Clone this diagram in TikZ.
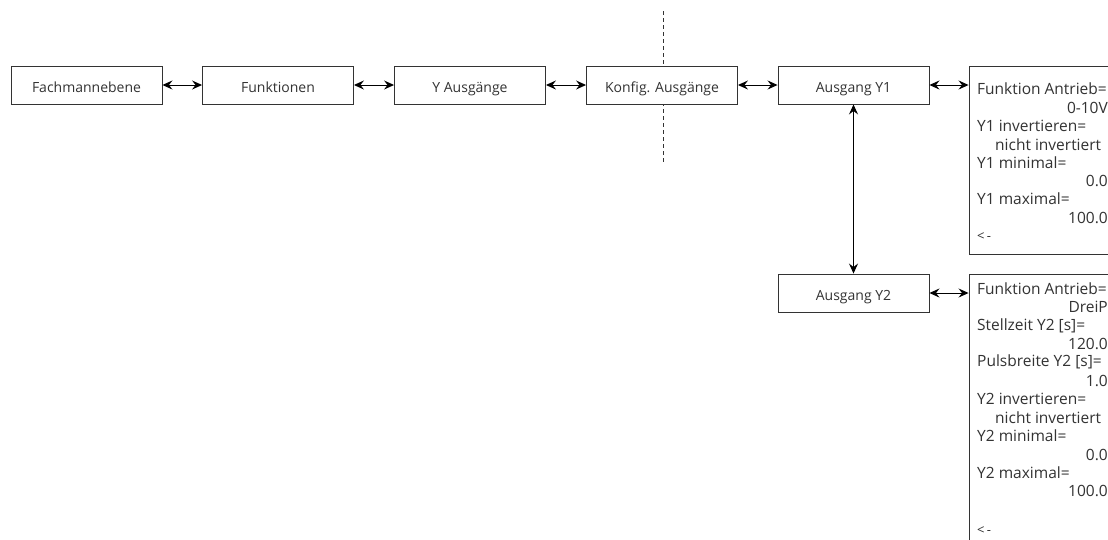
\documentclass[tikz,border=0pt]{standalone}
\usepackage{fontspec}
\setmainfont{Open Sans}
\usetikzlibrary{arrows.meta}
\definecolor{ink}{HTML}{333333}
\begin{document}
\begin{tikzpicture}[x=1pt,y=-1pt,
  font=\fontsize{14}{16}\selectfont,
  menubox/.style={draw=ink,line width=0.9pt,fill=white,text=ink,
    minimum width=151pt,minimum height=38pt,inner sep=0pt,
    text height=15pt,text depth=0pt},
  listbox/.style={draw=ink,line width=0.9pt,fill=white,inner sep=0pt},
  tip/.tip={Stealth[length=10pt,width=9pt,inset=3.5pt]},
  link/.style={line width=1pt,draw=black,tip-tip},
  item/.style={text=ink,inner sep=0pt,anchor=west,font=\fontsize{15.5}{17}\selectfont},
  val/.style={text=ink,inner sep=0pt,anchor=east,font=\fontsize{15.5}{17}\selectfont}]
\useasboundingbox (0,0) rectangle (1108,539);

% separator line behind the main menu row
\draw[ink,line width=0.8pt,dash pattern=on 4pt off 3pt] (663,11) -- (663,163);

% main menu row
\node[menubox] (fach) at (86.5,85) {Fachmannebene};
\node[menubox] (funk) at (278,85) {Funktionen};
\node[menubox] (yaus) at (470,85) {Y Ausgänge};
\node[menubox] (konf) at (662,85) {Konfig. Ausgänge};
\node[menubox] (ay1) at (853.5,85) {Ausgang Y1};
\node[menubox] (ay2) at (853.5,293) {Ausgang Y2};

% parameter lists
\node[listbox,minimum width=160pt,minimum height=188pt] (lst1) at (1049,160) {};
\node[listbox,minimum width=160pt,minimum height=280pt] (lst2) at (1049,414) {};

% entries of list Y1
\node[item] (l1a) at (977,89)  {Funktion Antrieb=};
\node[val]  (l1b) at (1108,108) {0-10V};
\node[item] (l1c) at (977,126) {Y1 invertieren=};
\node[item] (l1d) at (995,145) {nicht invertiert};
\node[item] (l1e) at (977,163) {Y1 minimal=};
\node[val]  (l1f) at (1108,181) {0.0};
\node[item] (l1g) at (977,199) {Y1 maximal=};
\node[val]  (l1h) at (1108,218) {100.0};
\node[item,font=\fontsize{13}{15}\selectfont] (l1i) at (977,237) {<\,-};

% entries of list Y2
\node[item] (l2a) at (977,289) {Funktion Antrieb=};
\node[val]  (l2b) at (1108,307) {DreiP};
\node[item] (l2c) at (977,326) {Stellzeit Y2 [s]=};
\node[val]  (l2d) at (1108,344) {120.0};
\node[item] (l2e) at (977,362) {Pulsbreite Y2 [s]=};
\node[val]  (l2f) at (1108,381) {1.0};
\node[item] (l2g) at (977,399) {Y2 invertieren=};
\node[item] (l2h) at (995,418) {nicht invertiert};
\node[item] (l2i) at (977,436) {Y2 minimal=};
\node[val]  (l2j) at (1108,455) {0.0};
\node[item] (l2k) at (977,473) {Y2 maximal=};
\node[val]  (l2l) at (1108,491) {100.0};
\node[item,font=\fontsize{13}{15}\selectfont] (l2m) at (977,531) {<\,-};

% connectors
\draw[link] (fach.east) -- (funk.west);
\draw[link] (funk.east) -- (yaus.west);
\draw[link] (yaus.east) -- (konf.west);
\draw[link] (konf.east) -- (ay1.west);
\draw[link] (ay1.east) -- (ay1.east -| lst1.west);
\draw[link] (ay2.east) -- (ay2.east -| lst2.west);
\draw[link] (ay1.south) -- (ay2.north);
\end{tikzpicture}
\end{document}
